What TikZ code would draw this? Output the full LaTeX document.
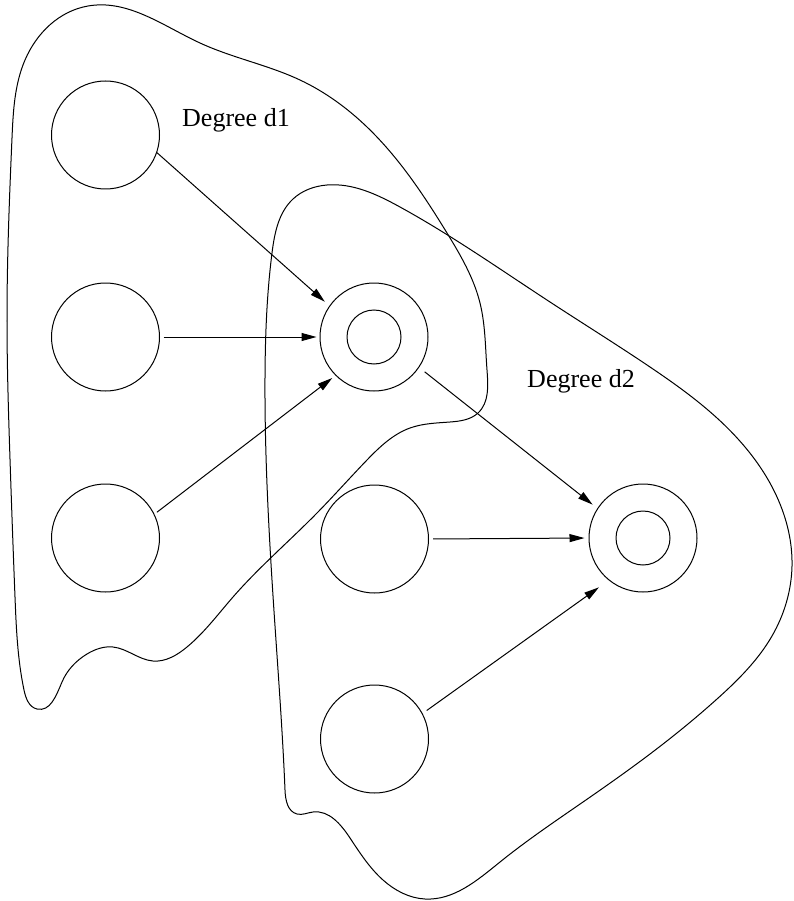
\documentclass[tikz,border=0pt]{standalone}
\usepackage{fontspec}
\setmainfont{Liberation Serif}
\usetikzlibrary{arrows.meta,hobby}
\begin{document}
\begin{tikzpicture}[x=1pt,y=-1pt,
  vert/.style={circle,draw,line width=1pt,minimum size=108pt,inner sep=0pt},
  innerc/.style={circle,draw,line width=1pt,minimum size=54pt,inner sep=0pt},
  arr/.style={line width=1pt,-{Triangle[length=15pt,width=8pt]}},
  blob/.style={line width=1pt,line join=round},
  lbl/.style={font=\fontsize{26}{30}\selectfont,anchor=base}]
\useasboundingbox (0,0) rectangle (793,901);
% region d1
\draw[blob] plot[closed hobby] coordinates {
  (88,6) (200,43) (300,80) (367,127) (447,233) (480,303) (487,370)
  (478,413) (450,422) (410,428) (367,460) (317,513) (233,597)
  (187,647) (153,661) (113,647) (87,654) (62,682) (37,709) (24,690)
  (15,597) (10,459) (7,321) (12,138) (25,60)};
% region d2
\draw[blob] plot[closed hobby] coordinates {
  (327,185) (400,207) (550,302) (650,367) (717,418)
  (777,497) (792,566) (772,636) (717,699) (650,754) (583,802)
  (500,862) (425,899) (383,880) (350,838) (313,812)
  (297,814) (285,790) (275,626) (265,377)
  (272,253) (293,199)};
% nodes
\node[vert] (c1) at (105.5,135) {};
\node[vert] (c2) at (105.5,337) {};
\node[vert] (c3) at (105.5,538) {};
\node[vert] (d1) at (374,337) {};
\node[innerc] (d1in) at (374,337) {};
\node[vert] (c5) at (374.5,539) {};
\node[vert] (c6) at (374.5,739) {};
\node[vert] (d2) at (643,538) {};
\node[innerc] (d2in) at (643,538) {};
% labels
\node[lbl] (l1) at (236,127) {Degree d1};
\node[lbl] (l2) at (581,387) {Degree d2};
% arrows
\draw[arr,shorten >=6pt] (c1.-19) -- (d1.145);
\draw[arr,shorten <=3.5pt,shorten >=3pt] (c2.east) -- (d1.west);
\draw[arr,shorten <=3pt,shorten >=4pt] (c3.26) -- (d1.-135);
\draw[arr,shorten <=7pt,shorten >=6pt] (d1.-34) -- (d2.147);
\draw[arr,shorten <=4pt,shorten >=4pt] (c5.east) -- (d2.west);
\draw[arr,shorten <=5pt,shorten >=12pt] (c6.28) -- (d2.-129);
\end{tikzpicture}
\end{document}
